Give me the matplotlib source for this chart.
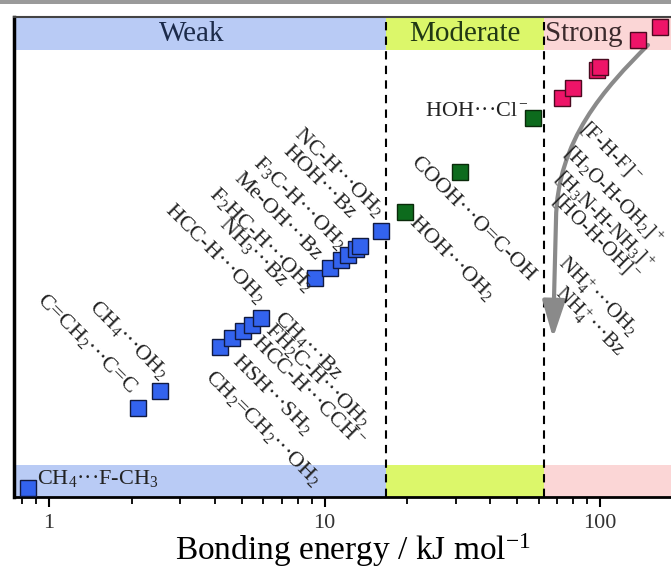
import numpy as np
import matplotlib.pyplot as plt
from matplotlib.patches import FancyArrowPatch, Rectangle
from matplotlib.path import Path

plt.rcParams['font.family'] = ['Liberation Serif', 'DejaVu Serif']
plt.rcParams['mathtext.fontset'] = 'custom'
plt.rcParams['mathtext.rm'] = 'Liberation Serif'
plt.rcParams['mathtext.it'] = 'Liberation Serif:italic'
plt.rcParams['mathtext.bf'] = 'Liberation Serif:bold'

#================ Dati ================
# energia di legame (kJ/mol) e posizione verticale arbitraria
weak_E = [0.84, 2.10, 2.53, 4.18, 4.62, 5.06, 5.46, 5.88,
          9.24, 10.5, 11.5, 12.2, 13.0, 13.4, 16.0]
weak_y = [9, 89, 106, 150, 159, 166, 172, 179,
          219, 229, 237, 242, 248, 251, 266]
mod_E = [19.6, 31.0, 57.1]
mod_y = [285, 325, 379]
strong_E = [72.8, 79.8, 97.5, 100, 137, 165]
strong_y = [399, 409, 427, 430, 457, 470]

limits = [16.7, 62.5]  # confini debole/moderato/forte
band_names = ['Weak', 'Moderate', 'Strong']

xticks = [1, 10, 100]
xtick_labels = ['1', '10', '100']

lab_flat = ['CH$_4$···F-CH$_3$', 'HOH···Cl$^-$']
lab_diag = ['C=CH$_2$···C=C', 'CH$_4$···OH$_2$',
            'CH$_4$···Bz', 'FH$_2$C-H···OH$_2$', 'HCC-H···CCH$^-$',
            'HSH···SH$_2$', 'CH$_2$=CH$_2$···OH$_2$',
            'NC-H···OH$_2$', 'HOH···Bz', 'F$_3$C-H···OH$_2$', 'Me-OH···Bz',
            'F$_2$HC-H···OH$_2$', 'NH$_3$···Bz', 'HCC-H···OH$_2$',
            'COOH···O=C-OH', 'HOH···OH$_2$']
lab_strong = ['[F-H-F]$^-$', '[H$_2$O-H-OH$_2$]$^+$', '[H$_3$N-H-NH$_3$]$^+$',
              '[HO-H-OH]$^-$', 'NH$_4^+$···OH$_2$', 'NH$_4^+$···Bz']
#======================================

# posizioni delle etichette (pixel della figura)
flat_pos = [(37, 484, 'left'), (529, 116, 'right')]
diag_pos = [(48, 289), (100, 296),
            (285, 307), (276, 319), (261, 333), (243, 350), (216, 366),
            (305, 123), (292, 142), (264, 152), (243, 169), (220, 183),
            (230, 213), (176, 199),
            (420, 153), (420, 211)]
strong_pos = [(591, 117), (575, 141), (566, 166), (563, 189), (570, 251),
              (567, 281)]

L, R, T, B = 14, 671, 17, 497
W, H = 671, 569


def fr(px, py):
    return (px - L) / (R - L), (B - py) / (B - T)


fig = plt.figure(figsize=(6.71, 5.69), dpi=100)
ax = fig.add_axes([L / W, 1 - B / H, (R - L) / W, (B - T) / H])
ax.set_xscale('log')
ax.set_xlim(0.746, 181)
ax.set_ylim(0, 480)

# fasce colorate
cols = ['#b9cbf5', '#dcf76a', '#fbd6d6']
edges = [0.746] + limits + [181]
for i in range(3):
    ax.axvspan(edges[i], edges[i + 1], ymin=0, ymax=32 / 480, color=cols[i], lw=0, zorder=0)
    ax.axvspan(edges[i], edges[i + 1], ymin=447 / 480, ymax=1, color=cols[i], lw=0, zorder=0)

tcol = ['#1c2b4a', '#213814', '#3b2a2c']
ax.text(3.3, 463, band_names[0], fontsize=21, color=tcol[0], ha='center', va='center')
ax.text(32.4, 463, band_names[1], fontsize=21, color=tcol[1], ha='center', va='center')
ax.text(limits[1] * 1.01, 463, band_names[2], fontsize=21, color=tcol[2], ha='left', va='center')

for lim in limits:
    ax.axvline(lim, color='k', ls=(0, (4, 3)), lw=1.5, zorder=1)

# punti
ax.plot(weak_E, weak_y, 's', ms=11, mfc='#3363ee', mec='#111a40', mew=1, zorder=5, clip_on=False)
ax.plot(mod_E, mod_y, 's', ms=11, mfc='#0d6b1d', mec='#0a2a0a', mew=1, zorder=5)
ax.plot(strong_E, strong_y, 's', ms=11, mfc='#ee1468', mec='#4a0a20', mew=1, zorder=5, clip_on=False)

# etichette
for s, (px, py, ha) in zip(lab_flat, flat_pos):
    ax.text(*fr(px, py), s, transform=ax.transAxes, fontsize=16, ha=ha,
            va='baseline', color='#222222', zorder=6)
for s, (px, py) in zip(lab_diag, diag_pos):
    ax.text(*fr(px, py), s, transform=ax.transAxes, fontsize=16, ha='left',
            va='top', rotation=-45, rotation_mode='anchor', color='#222222', zorder=6)
for s, (px, py) in zip(lab_strong, strong_pos):
    ax.text(*fr(px, py), s, transform=ax.transAxes, fontsize=15, ha='left',
            va='top', rotation=-45, rotation_mode='anchor', color='#222222', zorder=6)

# freccia grigia
verts = [fr(648, 45), fr(605, 88), fr(557, 140), fr(556, 220), fr(553, 338)]
codes = [Path.MOVETO, Path.CURVE4, Path.CURVE4, Path.CURVE4, Path.LINETO]
arr = FancyArrowPatch(path=Path(verts, codes), transform=ax.transAxes,
                      arrowstyle='-|>,head_length=0.9,head_width=0.28',
                      mutation_scale=25, color='#8a8a8a', lw=3, zorder=4)
ax.add_patch(arr)

# assi
ax.set_xticks(xticks)
ax.set_xticklabels(xtick_labels)
ax.set_yticks([])
ax.tick_params(axis='x', which='major', direction='out', length=7, width=1.5,
               labelsize=16, pad=5, labelcolor='#333333')
ax.tick_params(axis='x', which='minor', direction='out', length=5, width=1.3)
ax.spines['left'].set_linewidth(2.5)
ax.spines['bottom'].set_linewidth(2)
ax.spines['top'].set_color('#444444')
ax.spines['top'].set_linewidth(1.5)
ax.spines['right'].set_visible(False)
ax.set_xlabel('Bonding energy / kJ mol$^{-1}$', fontsize=24, va='baseline')
ax.xaxis.set_label_coords(*fr(353, 560))

fig.patches.append(Rectangle((0, 1 - 4 / H), 1, 4 / H, transform=fig.transFigure,
                             color='#9a9a9a', lw=0))

fig.savefig('out.png', dpi=100)
